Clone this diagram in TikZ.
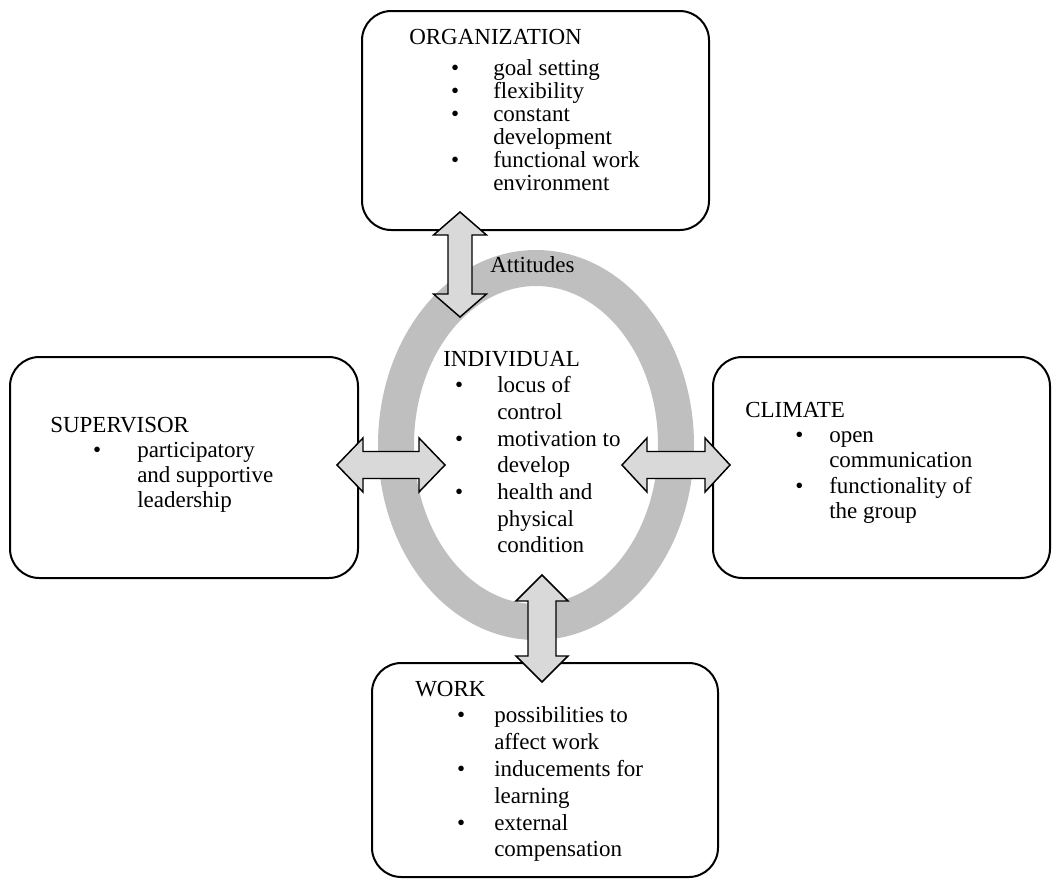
\documentclass[tikz,border=0pt]{standalone}
\usepackage{fontspec}
\setmainfont{Liberation Serif}
\usetikzlibrary{shapes.geometric,calc}
\definecolor{ringgray}{HTML}{BFBFBF}
\definecolor{arrowgray}{HTML}{D9D9D9}
\newdimen\px \px=0.75pt
\newcommand\bi[3]{\hbox{\hspace*{#1\px}\makebox[0pt]{\textbullet}\hspace*{#2\px}#3}}
\newcommand\ci[2]{\hbox{\hspace*{#1\px}#2}}
% vertical double block arrow: #1 top tip, #2 bottom tip, #3 head half width, #4 shaft half width, #5 head length
\newcommand\vdarr[5]{%
  \draw[barrow] (#1) -- ++(#3,#5) -- ++({-(#3-#4)},0) -- ($(#2)+(#4,-#5)$) -- ++({#3-#4},0) -- (#2)
    -- ++(-#3,-#5) -- ++({#3-#4},0) -- ($(#1)+(-#4,#5)$) -- ++({-(#3-#4)},0) -- cycle;}
% horizontal double block arrow: #1 left tip, #2 right tip
\newcommand\hdarr[5]{%
  \draw[barrow] (#1) -- ++(#5,-#3) -- ++(0,{#3-#4}) -- ($(#2)+(-#5,-#4)$) -- ++(0,{-(#3-#4)}) -- (#2)
    -- ++(-#5,#3) -- ++(0,{-(#3-#4)}) -- ($(#1)+(#5,#4)$) -- ++(0,{#3-#4}) -- cycle;}
\begin{document}
\begin{tikzpicture}[x=0.75pt,y=-0.75pt,
  box/.style={draw=black, line width=1.5pt, rounded corners=22pt, fill=white, inner sep=0pt},
  txt/.style={anchor=base west, inner sep=0pt},
  barrow/.style={draw=black, line width=1.1pt, fill=arrowgray, line join=miter}]
\useasboundingbox (0,0) rectangle (1052,879);
\fontsize{17.25}{20}\selectfont

% ring
\node[ellipse, draw=ringgray, line width=27pt, minimum width=280\px, minimum height=354\px, inner sep=0pt] (ring) at (536,445) {};

% boxes
\node[box, minimum width=347\px, minimum height=219\px] (org) at (535.5,120.5) {};
\node[box, minimum width=348\px, minimum height=221\px] (sup) at (184,467.5) {};
\node[box, minimum width=337\px, minimum height=221\px] (cli) at (881.5,467.5) {};
\node[box, minimum width=346\px, minimum height=214\px] (work) at (545,770) {};

% texts
\node[txt] (orgt) at (409,44) {\vtop{\baselineskip=17.25pt
  \hbox{ORGANIZATION}\vskip 8\px
  \bi{46}{38}{goal setting}
  \bi{46}{38}{flexibility}
  \bi{46}{38}{constant}
  \ci{84}{development}
  \bi{46}{38}{functional work}
  \ci{84}{environment}}};

\node[txt] (indt) at (443,366) {\vtop{\baselineskip=20pt
  \hbox{INDIVIDUAL}
  \bi{16}{38}{locus of}
  \ci{54}{control}
  \bi{16}{38}{motivation to}
  \ci{54}{develop}
  \bi{16}{38}{health and}
  \ci{54}{physical}
  \ci{54}{condition}}};

\node[txt] (supt) at (50,432) {\vtop{\baselineskip=18.9pt
  \hbox{SUPERVISOR}
  \bi{47}{40}{participatory}
  \ci{87}{and supportive}
  \ci{87}{leadership}}};

\node[txt] (clit) at (745,417) {\vtop{\baselineskip=19pt
  \hbox{CLIMATE}
  \bi{54}{30}{open}
  \ci{84}{communication}
  \bi{54}{30}{functionality of}
  \ci{84}{the group}}};

\node[txt] (workt) at (415,696) {\vtop{\baselineskip=20.1pt
  \hbox{WORK}
  \bi{46}{33}{possibilities to}
  \ci{79}{affect work}
  \bi{46}{33}{inducements for}
  \ci{79}{learning}
  \bi{46}{33}{external}
  \ci{79}{compensation}}};

\node[txt] (att) at (490,272) {Attitudes};

% arrows
\coordinate (a1s) at (460,212); \coordinate (a1e) at (460,317);
\coordinate (a2s) at (337,465); \coordinate (a2e) at (445,465);
\coordinate (a3s) at (622,465); \coordinate (a3e) at (730,465);
\coordinate (a4s) at (542,575); \coordinate (a4e) at (542,682);
\vdarr{a1s}{a1e}{26.5}{12}{23}
\hdarr{a2s}{a2e}{27}{13.5}{26}
\hdarr{a3s}{a3e}{27}{13.5}{25}
\vdarr{a4s}{a4e}{26}{14}{26}
\end{tikzpicture}
\end{document}
